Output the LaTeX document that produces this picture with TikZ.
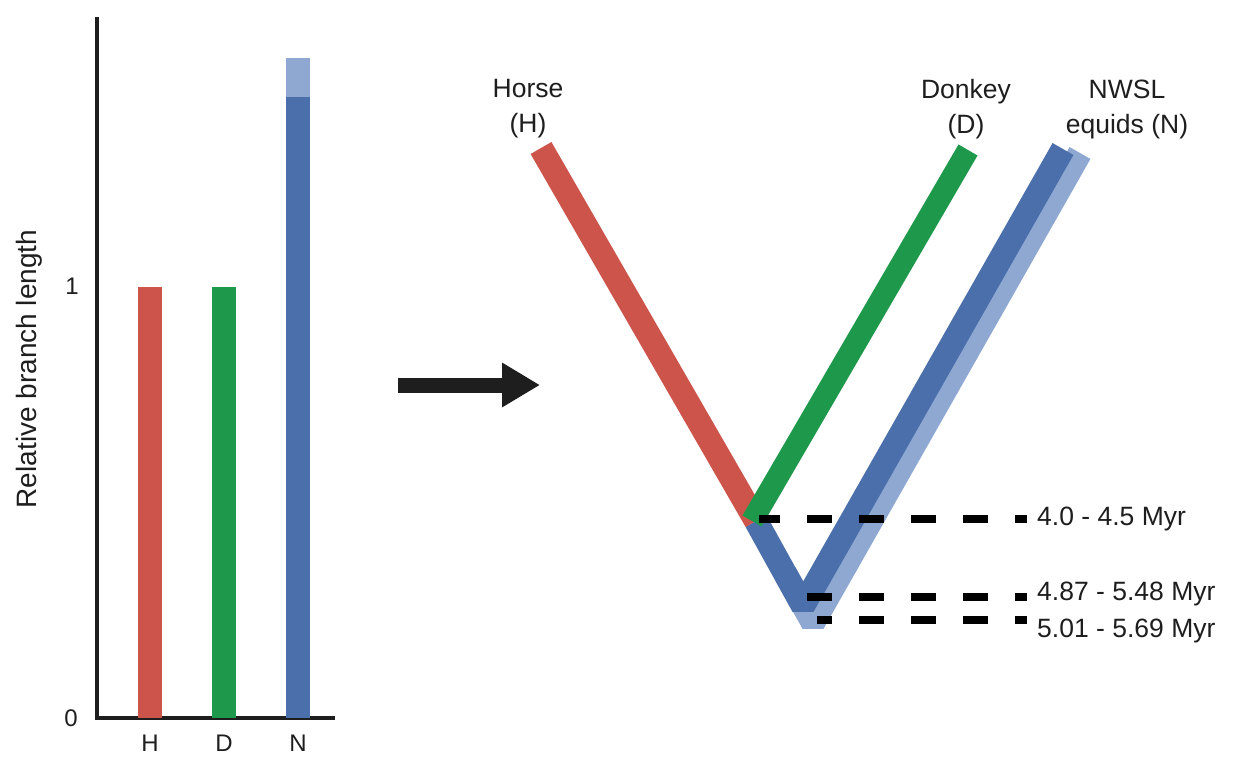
\documentclass[tikz,border=0pt]{standalone}
\usepackage{fontspec}
\setmainfont{Liberation Sans}
\usetikzlibrary{arrows.meta}

\definecolor{hred}{RGB}{205,84,74}
\definecolor{dgreen}{RGB}{30,152,74}
\definecolor{nblue}{RGB}{74,111,170}
\definecolor{nlight}{RGB}{142,168,210}
\definecolor{ink}{RGB}{30,30,30}

\tikzset{
  axisline/.style={line width=3.5pt, draw=ink},
  bar/.style={line width=24pt},
  branch/.style={line width=24pt, line join=bevel, line cap=butt},
  agedash/.style={line width=8pt, draw=black, dash pattern=on 25pt off 27pt, dash phase=13pt},
  lbl/.style={text=ink, font=\fontsize{26.5}{35}\selectfont, align=center, inner sep=0pt},
  ticklbl/.style={text=ink, font=\fontsize{24}{28}\selectfont, inner sep=0pt},
}

\begin{document}
\begin{tikzpicture}[x=1pt,y=-1pt]
\useasboundingbox (0,0) rectangle (1246,757);

% ---------- bar chart of relative branch lengths ----------
\coordinate (origin) at (97,718);
\coordinate (ytop) at (97,17);
\coordinate (xend) at (335,718);
\draw[axisline] (ytop) -- (origin) -- (xend);

\node[ticklbl] (zero) at (71,718) {0};
\node[ticklbl] (one) at (72,286) {1};
\node[lbl, font=\fontsize{28}{34}\selectfont, rotate=90] (ylabel) at (29,369) {Relative branch length};

\coordinate (hb0) at (150,718); \coordinate (hb1) at (150,287);
\coordinate (db0) at (224,718); \coordinate (db1) at (224,287);
\coordinate (nb0) at (298,718); \coordinate (nb1) at (298,97); \coordinate (nb2) at (298,58);
\draw[bar, hred] (hb0) -- (hb1);
\draw[bar, dgreen] (db0) -- (db1);
\draw[bar, nlight] (nb1) -- (nb2);
\draw[bar, nblue] (nb0) -- (nb1);

\node[ticklbl] (hx) at (150,743) {H};
\node[ticklbl] (dx) at (224,743) {D};
\node[ticklbl] (nx) at (298,743) {N};

% ---------- arrow ----------
\coordinate (arrA) at (398,385);
\coordinate (arrB) at (540,385);
\draw[line width=15pt, ink, -{Triangle[length=38pt, width=42pt]}] (arrA) -- (arrB);

% ---------- tree ----------
\node[lbl] (horse) at (528,109) {Horse\\(H)};
\node[lbl] (donkey) at (966,109) {Donkey\\(D)};
\node[lbl] (nwsl) at (1127,109) {NWSL\\equids (N)};

\coordinate (hTip) at (541,148);
\coordinate (dTip) at (968,150);
\coordinate (nTip) at (1063,149);
\coordinate (nlTip) at (1080,153);
\coordinate (j1) at (756,521);
\coordinate (j2) at (803,606);
\coordinate (j3) at (813,623);
\coordinate (nlStart) at (785,573);

\draw[branch, nlight] (nlStart) -- (j3) -- (nlTip);
\draw[branch, nblue] (j1) -- (j2) -- (nTip);
\draw[branch, hred] (hTip) -- (j1);
\draw[branch, dgreen, line width=22pt] (dTip) -- ([xshift=-4pt]j1);

% ---------- divergence times ----------
\node[lbl, anchor=west] (t1) at (1037,519) {4.0 - 4.5 Myr};
\node[lbl, anchor=west] (t2) at (1037,594) {4.87 - 5.48 Myr};
\node[lbl, anchor=west] (t3) at (1037,631) {5.01 - 5.69 Myr};

\coordinate (e1) at (1027,519);
\coordinate (e2) at (1027,597);
\coordinate (e3) at (1027,620);
\draw[agedash] (e1) -- ([xshift=3pt]j1 |- e1);
\draw[agedash] (e2) -- (j2 |- e2);
\draw[agedash] (e3) -- ([xshift=4pt]j3 |- e3);
\end{tikzpicture}
\end{document}
